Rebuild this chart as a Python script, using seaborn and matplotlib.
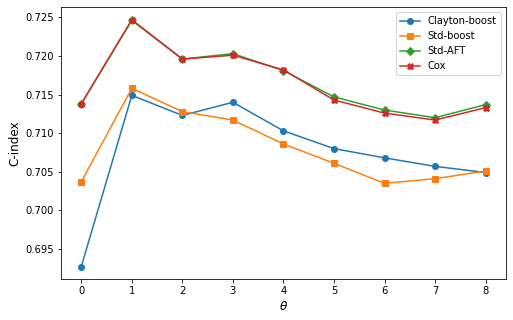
import matplotlib
matplotlib.use("Agg")
import matplotlib.pyplot as plt
import seaborn as sns
import pandas as pd

theta = [0, 1, 2, 3, 4, 5, 6, 7, 8]
clayton_boost = [0.6927, 0.7149, 0.7123, 0.7140, 0.7103, 0.7080, 0.7068, 0.7057, 0.7049]
std_boost = [0.7037, 0.7158, 0.7128, 0.7117, 0.7086, 0.7061, 0.7035, 0.7041, 0.7051]
std_aft = [0.7138, 0.7246, 0.7196, 0.7203, 0.7181, 0.7147, 0.7130, 0.7120, 0.7137]
cox = [0.7138, 0.7247, 0.7196, 0.7201, 0.7182, 0.7143, 0.7126, 0.7117, 0.7133]

series = [("Clayton-boost", clayton_boost, "o"),
          ("Std-boost", std_boost, "s"),
          ("Std-AFT", std_aft, "D"),
          ("Cox", cox, "X")]
colors = ["#1f77b4", "#ff7f0e", "#2ca02c", "#d62728"]

fig, ax = plt.subplots(figsize=(513/72, 320/72), dpi=72)
for (name, vals, mk), c in zip(series, colors):
    df = pd.DataFrame({"theta": theta, "cindex": vals})
    sns.lineplot(data=df, x="theta", y="cindex", marker=mk, color=c,
                 label=name, ax=ax, markersize=6 if mk != "D" else 5,
                 markeredgewidth=1, markeredgecolor=c)

ax.set_xlabel(r"$\theta$", fontsize=12)
ax.set_ylabel("C-index", fontsize=12)
ax.set_xticks(theta)
ax.set_yticks([0.695, 0.700, 0.705, 0.710, 0.715, 0.720, 0.725])
ax.set_yticklabels(["0.695", "0.700", "0.705", "0.710", "0.715", "0.720", "0.725"])
ax.legend(loc="upper right")
fig.subplots_adjust(left=0.119, right=0.986, top=0.977, bottom=0.128)
fig.savefig("out.png", dpi=72)
